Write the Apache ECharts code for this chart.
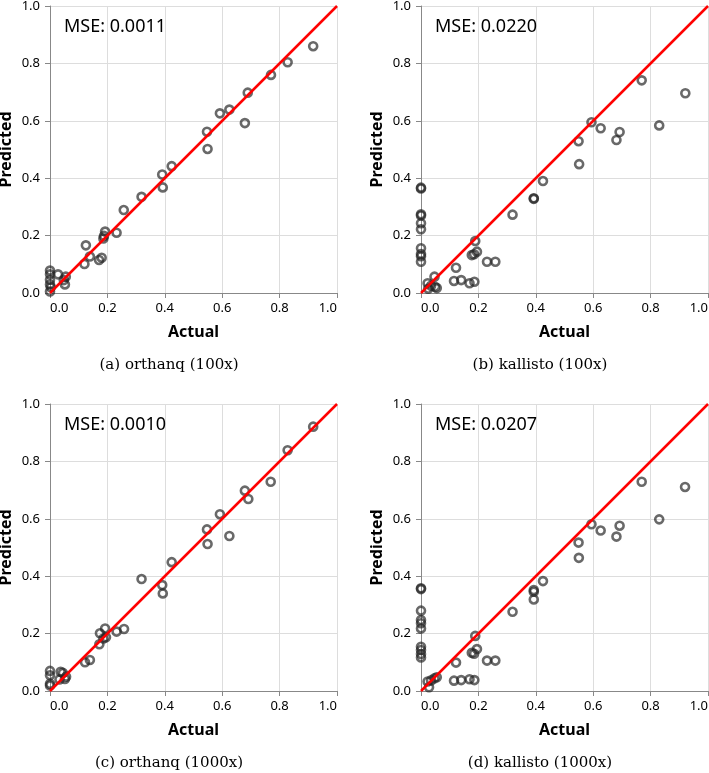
<!DOCTYPE html>
<html>
<head>
<meta charset="utf-8">
<script src="https://cdn.jsdelivr.net/npm/echarts@6/dist/echarts.min.js"></script>
<style>
html, body { margin: 0; padding: 0; background: #fff; }
#chart { width: 709px; height: 773px; }
</style>
</head>
<body>
<div id="chart"></div>
<script>
// panel (a) orthanq 100x
var orthanq100Actual = [0.917, 0.828, 0.77, 0.689, 0.679, 0.625, 0.592, 0.547, 0.549, 0.424, 0.391, 0.393, 0.319,
	0.257, 0.232, 0.192, 0.188, 0.186, 0.171, 0.18, 0.125, 0.139, 0.12, 0.028, 0.055, 0.052, 0.048,
	0, 0, 0, 0, 0, 0.003];
var orthanq100Pred = [0.86, 0.804, 0.76, 0.698, 0.592, 0.639, 0.626, 0.562, 0.502, 0.442, 0.413, 0.368, 0.335,
	0.289, 0.21, 0.214, 0.199, 0.19, 0.115, 0.123, 0.166, 0.127, 0.101, 0.065, 0.057, 0.03, 0.045,
	0.078, 0.065, 0.046, 0.03, 0.005, 0.02];
// panel (b) kallisto 100x
var kallisto100Actual = [0.921, 0.83, 0.769, 0.692, 0.681, 0.626, 0.594, 0.549, 0.551, 0.425, 0.393, 0.393,
	0, 0, 0.319, 0, 0, 0, 0, 0, 0, 0, 0,
	0.189, 0.195, 0.177, 0.185, 0.23, 0.259, 0.122, 0.115, 0.14, 0.169, 0.186,
	0.047, 0.023, 0.049, 0.055, 0.025, 0.035];
var kallisto100Pred = [0.696, 0.584, 0.741, 0.561, 0.533, 0.574, 0.595, 0.529, 0.449, 0.39, 0.328, 0.33,
	0.367, 0.364, 0.273, 0.274, 0.27, 0.243, 0.222, 0.156, 0.136, 0.128, 0.109,
	0.181, 0.144, 0.132, 0.135, 0.109, 0.109, 0.088, 0.042, 0.045, 0.034, 0.039,
	0.057, 0.034, 0.022, 0.017, 0.015, 0.025];
// panel (c) orthanq 1000x
var orthanq1000Actual = [0.917, 0.828, 0.769, 0.679, 0.691, 0.625, 0.592, 0.547, 0.549, 0.424, 0.319, 0.391, 0.393,
	0.258, 0.232, 0.192, 0.174, 0.195, 0.186, 0.172, 0.139, 0.122,
	0, 0, 0, 0, 0.037, 0.045, 0.056, 0.052, 0.033];
var orthanq1000Pred = [0.921, 0.839, 0.729, 0.698, 0.669, 0.54, 0.616, 0.563, 0.512, 0.449, 0.39, 0.369, 0.34,
	0.216, 0.207, 0.218, 0.201, 0.187, 0.183, 0.163, 0.108, 0.1,
	0.07, 0.055, 0.025, 0.019, 0.067, 0.063, 0.05, 0.042, 0.04];
// panel (d) kallisto 1000x
var kallisto1000Actual = [0.92, 0.83, 0.769, 0.692, 0.681, 0.626, 0.594, 0.549, 0.55, 0.425, 0.393, 0.393, 0.393,
	0.319, 0, 0, 0, 0, 0, 0, 0, 0, 0, 0,
	0.189, 0.195, 0.177, 0.185, 0.23, 0.259, 0.122, 0.115, 0.14, 0.169, 0.186,
	0.055, 0.047, 0.035, 0.023, 0.028];
var kallisto1000Pred = [0.711, 0.598, 0.729, 0.576, 0.538, 0.559, 0.581, 0.517, 0.464, 0.383, 0.352, 0.346, 0.319,
	0.276, 0.358, 0.355, 0.28, 0.247, 0.236, 0.218, 0.154, 0.143, 0.129, 0.117,
	0.192, 0.146, 0.133, 0.13, 0.106, 0.106, 0.099, 0.036, 0.038, 0.041, 0.038,
	0.048, 0.044, 0.037, 0.033, 0.013];

var mseLabels = ['MSE: 0.0011', 'MSE: 0.0220', 'MSE: 0.0010', 'MSE: 0.0207'];
var captions = ['(a) orthanq (100x)', '(b) kallisto (100x)', '(c) orthanq (1000x)', '(d) kallisto (1000x)'];
var tickValues = [0, 0.2, 0.4, 0.6, 0.8, 1.0];
var diagonal = [[0, 0], [1, 1]];

var panels = [
	[orthanq100Actual, orthanq100Pred],
	[kallisto100Actual, kallisto100Pred],
	[orthanq1000Actual, orthanq1000Pred],
	[kallisto1000Actual, kallisto1000Pred]
];

var gridPos = [
	{ left: 50, top: 6 },
	{ left: 421, top: 6 },
	{ left: 50, top: 404 },
	{ left: 421, top: 404 }
];

function zip(xs, ys) {
	var out = [];
	for (var i = 0; i < xs.length; i++) {
		out.push([xs[i], ys[i]]);
	}
	return out;
}

function fmt(v) {
	return v.toFixed(1);
}

var font = 'Noto Sans';
var grids = [], xAxes = [], yAxes = [], series = [], titles = [], graphics = [];

function makeAxis(i, name, gap, margin) {
	return {
		gridIndex: i,
		type: 'value',
		min: tickValues[0],
		max: tickValues[tickValues.length - 1],
		interval: 0.2,
		name: name,
		nameLocation: 'middle',
		nameGap: gap,
		nameTextStyle: { fontFamily: font, fontWeight: 'bold', fontSize: 16, color: '#000' },
		axisLine: { show: true, lineStyle: { color: '#888', width: 1 } },
		axisTick: { show: true, length: 5, lineStyle: { color: '#888' } },
		splitLine: { show: true, lineStyle: { color: '#ddd', width: 1 } },
		axisLabel: {
			fontFamily: font,
			fontSize: 13,
			color: '#000',
			margin: margin,
			formatter: fmt
		}
	};
}

for (var i = 0; i < 4; i++) {
	grids.push({
		left: gridPos[i].left,
		top: gridPos[i].top,
		width: 287,
		height: 287,
		outerBoundsMode: 'none'
	});
	var xa = makeAxis(i, 'Actual', 31, 9);
	xa.axisLabel.alignMinLabel = 'left';
	xa.axisLabel.alignMaxLabel = 'right';
	xAxes.push(xa);
	yAxes.push(makeAxis(i, 'Predicted', 36, 10));

	series.push({
		type: 'scatter',
		xAxisIndex: i,
		yAxisIndex: i,
		symbol: 'circle',
		symbolSize: 8,
		itemStyle: {
			color: 'rgba(0,0,0,0)',
			borderColor: 'rgba(35,35,35,0.85)',
			borderWidth: 2.6
		},
		emphasis: { disabled: true },
		data: zip(panels[i][0], panels[i][1]),
		z: 2
	});
	series.push({
		type: 'line',
		xAxisIndex: i,
		yAxisIndex: i,
		showSymbol: false,
		lineStyle: { color: '#ff0000', width: 2.5 },
		data: diagonal,
		z: 3
	});

	titles.push({
		text: mseLabels[i],
		left: gridPos[i].left + 14,
		top: gridPos[i].top + 12,
		textStyle: { fontFamily: font, fontSize: 18, fontWeight: 'normal', color: '#000' },
		padding: 0
	});
	graphics.push({
		type: 'text',
		x: gridPos[i].left + 119,
		y: gridPos[i].top + 359,
		style: {
			text: captions[i],
			font: '15px "DejaVu Serif"',
			fill: '#000',
			textAlign: 'center',
			textVerticalAlign: 'middle'
		}
	});
}

var chart = echarts.init(document.getElementById('chart'));
chart.setOption({
	animation: false,
	title: titles,
	grid: grids,
	xAxis: xAxes,
	yAxis: yAxes,
	series: series,
	graphic: graphics
});
</script>
</body>
</html>
